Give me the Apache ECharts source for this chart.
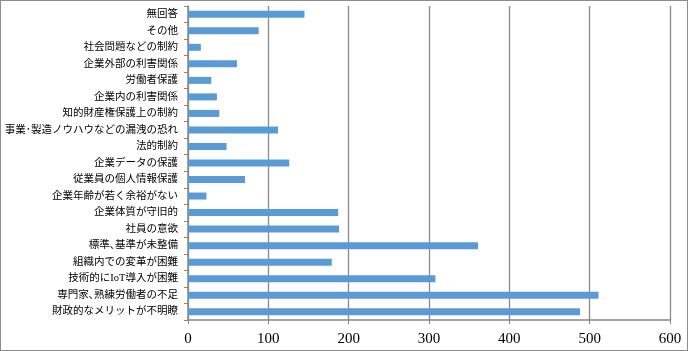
<!DOCTYPE html>
<html>
<head>
<meta charset="utf-8">
<script src="https://cdn.jsdelivr.net/npm/echarts@6/dist/echarts.min.js"></script>
<style>
  html, body { margin: 0; padding: 0; background: #fff; }
  #chart { width: 688px; height: 351px; box-sizing: border-box; border: 1px solid #8c8c8c; }
</style>
</head>
<body>
<div id="chart"></div>
<script>
// categories listed bottom -> top (as ECharts draws a category y axis)
var categories = [
  '財政的なメリットが不明瞭',
  '専門家､熟練労働者の不足',
  '技術的にIoT導入が困難',
  '組織内での変革が困難',
  '標準､基準が未整備',
  '社員の意欲',
  '企業体質が守旧的',
  '企業年齢が若く余裕がない',
  '従業員の個人情報保護',
  '企業データの保護',
  '法的制約',
  '事業･製造ノウハウなどの漏洩の恐れ',
  '知的財産権保護上の制約',
  '企業内の利害関係',
  '労働者保護',
  '企業外部の利害関係',
  '社会問題などの制約',
  'その他',
  '無回答'
];
var counts = [488, 511, 308, 179, 361, 188, 187, 23, 71, 126, 48, 112, 39, 36, 29, 61, 16, 88, 145];
var xTicks = [0, 100, 200, 300, 400, 500, 600];

var fontFam = '"Liberation Serif", "DejaVu Serif", "Noto Sans CJK JP", serif';

var option = {
  animation: false,
  backgroundColor: '#fff',
  grid: { left: 187, right: 17, top: 5, bottom: 30 },
  xAxis: {
    type: 'value',
    min: xTicks[0],
    max: xTicks[xTicks.length - 1],
    interval: 100,
    axisLine: { show: true, lineStyle: { color: '#868686', width: 1.5 } },
    axisTick: { show: true, length: 4, lineStyle: { color: '#868686' } },
    axisLabel: { color: '#000', fontSize: 15, fontFamily: fontFam, margin: 12 },
    splitLine: { show: true, lineStyle: { color: '#8a8a8a', width: 1.3 } }
  },
  yAxis: {
    type: 'category',
    data: categories,
    axisLine: { show: true, lineStyle: { color: '#868686', width: 1.5 } },
    axisTick: { show: true, length: 4, lineStyle: { color: '#868686' } },
    axisLabel: { color: '#000', fontSize: 10.5, fontFamily: fontFam, margin: 10, interval: 0 },
    splitLine: { show: false }
  },
  series: [{
    type: 'bar',
    data: counts,
    barWidth: 7,
    itemStyle: { color: '#5b9bd5' }
  }]
};

var myChart = echarts.init(document.getElementById('chart'));
myChart.setOption(option);
window.addEventListener('resize', function () {
  myChart.resize();
});
</script>
</body>
</html>
